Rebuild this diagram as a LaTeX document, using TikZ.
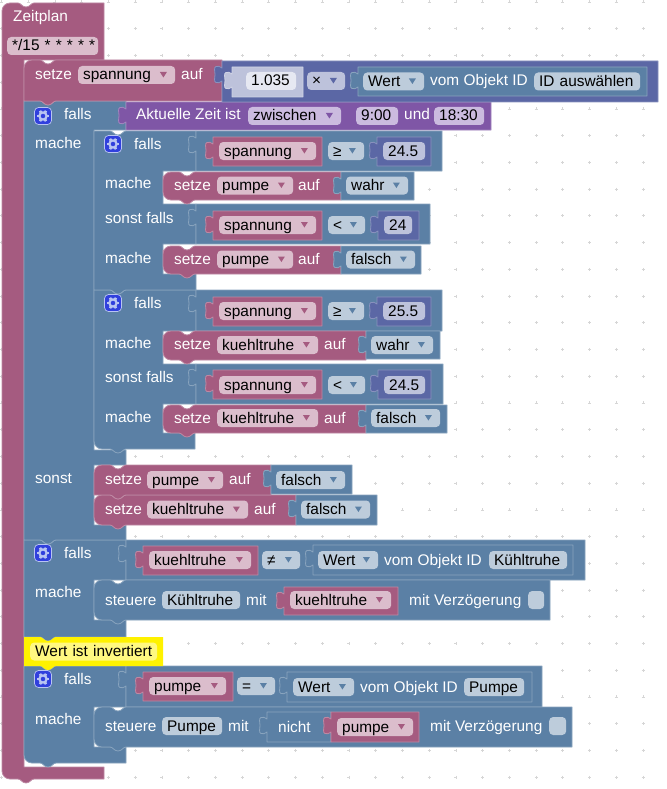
\documentclass[tikz,border=0pt]{standalone}
\usepackage{fontspec}
\setmainfont{Liberation Sans}
\usetikzlibrary{positioning}
\definecolor{cvar}{HTML}{A55B80}
\definecolor{clogic}{HTML}{5B80A5}
\definecolor{cmath}{HTML}{5B67A5}
\definecolor{ctime}{HTML}{7F56A6}
\definecolor{cshadow}{HTML}{BDC2DB}
\definecolor{fvar}{HTML}{DBBDCC}
\definecolor{flogic}{HTML}{BDCCDB}
\definecolor{ftime}{HTML}{CBBBDF}
\definecolor{fwhite}{HTML}{E6E8F2}
\definecolor{gearbg}{HTML}{3140DD}
\definecolor{gearfg}{HTML}{B9C4F2}
\tikzset{
  x=1pt,y=-1pt,
  blk/.style={fill=#1,draw=#1!72!white,line width=0.8pt,line join=round},
  griddot/.style={draw=black!16,line width=0.7pt},
  lbl/.style={anchor=base west,inner sep=0pt,text=white,font=\fontsize{15.4}{18}\selectfont},
  fld/.style={anchor=west,fill=#1,rounded corners=4pt,inner xsep=5pt,inner ysep=0pt,
    text height=11.5pt,text depth=1.5pt,minimum height=18pt,align=left,text=black,
    font=\fontsize{15.4}{18}\selectfont},
  gearbtn/.style={fill=gearbg,draw=gearfg,line width=0.7pt,rounded corners=4pt,minimum size=17pt,inner sep=0pt},
}
\newcommand{\ntop}[2]{-- ({#1+16},#2) .. controls ({#1+19},#2) and ({#1+20},{#2+4}) .. ({#1+24},{#2+4}) .. controls ({#1+28},{#2+4}) and ({#1+29},#2) .. ({#1+32},#2)}
\newcommand{\nbot}[2]{-- ({#1+32},#2) .. controls ({#1+29},#2) and ({#1+28},{#2+4}) .. ({#1+24},{#2+4}) .. controls ({#1+20},{#2+4}) and ({#1+19},#2) .. ({#1+16},#2)}
\newcommand{\stmt}[6]{\path[blk=#1] (#2,{#4+12}) [rounded corners=8pt] -- (#2,#4) [sharp corners] \ntop{#2}{#4} -- (#3,#4) -- (#3,#5) \nbot{#2}{#5} [rounded corners=#6pt] -- (#2,#5) -- (#2,{#4+12}) [sharp corners] -- cycle;}
\newcommand{\valblk}[5]{\path[blk=#1] (#2,#4) -- (#3,#4) -- (#3,#5) -- (#2,#5) -- (#2,{#4+20}) .. controls ({#2-2},{#4+22}) and ({#2-4},{#4+22}) .. ({#2-6},{#4+21.5}) .. controls ({#2-8.5},{#4+21}) and ({#2-7},{#4+16}) .. ({#2-7},{#4+13.5}) .. controls ({#2-7},{#4+11}) and ({#2-8.5},{#4+6}) .. ({#2-6},{#4+5.5}) .. controls ({#2-4},{#4+5}) and ({#2-2},{#4+5}) .. (#2,{#4+7}) -- cycle;}
\newcommand{\fld}[6]{\pgfmathsetmacro\fldw{#4-#3-10}\node[fld=#2,text width=\fldw pt] (#1) at (#3,#5) {\mbox{#6}};}
\newcommand{\dd}[7]{\fld{#1}{#2}{#4}{#5}{#6}{#7}\fill[#3] (#1.east) ++(-15.5,-3) -- ++(7,0) -- ++(-3.5,5.5) -- cycle;}
\newcommand{\gear}[3]{\node[gearbtn] (#1) at (#2,#3) {};
  \draw[gearfg,line width=2.2pt] (#1) circle (3.6);
  \foreach \a in {0,60,...,300} \draw[gearfg,line width=2.6pt] (#1) ++(\a:3.6) -- ++(\a:2.4);}
\begin{document}
\begin{tikzpicture}
\useasboundingbox (0,0) rectangle (666,789);
\fill[white] (0,0) rectangle (666,789);
\foreach \i in {0,...,24} \foreach \j in {0,...,29} {
  \pgfmathsetmacro\dx{1.5+26.73*\i}
  \pgfmathsetmacro\dy{2+26.73*\j}
  \draw[griddot] ({\dx-1.5},\dy) -- ({\dx+1.5},\dy) ({\dx},{\dy-1.5}) -- ({\dx},{\dy+1.5});
}
\path[blk=cvar] (2,100) [rounded corners=8pt] -- (2,3) [sharp corners] \ntop{2}{3} -- (104,3) -- (104,60) -- (24,60) -- (24,767) -- (104,767) -- (104,779) \nbot{2}{779} [rounded corners=8pt] -- (2,779) -- (2,100) [sharp corners] -- cycle;
\node[lbl] (zeitplan) at (13,22) {Zeitplan};
\fld{cron}{fvar}{7}{98}{46}{*/15 * * * * *}

\path[blk=clogic] (24,700) -- (24,666) \ntop{24}{666} -- (126,666) -- (126,707) -- (94,707) -- (94,747) -- (126,747) -- (126,763) \nbot{24}{763} [rounded corners=8pt] -- (24,763) -- (24,700) [sharp corners] -- cycle;
\gear{gthree}{43}{679}
\node[lbl] (falls5) at (64,684) {falls};
\node[lbl] (mache7) at (35,724) {mache};
\valblk{clogic}{126}{542}{666}{707}
\valblk{cvar}{143}{233}{672}{701}
\dd{fpumpe3}{fvar}{cvar}{149}{226}{686}{pumpe}
\dd{opeq}{flogic}{clogic}{237}{275}{686}{=}
\valblk{clogic}{287}{532}{672}{702}
\dd{wert3}{flogic}{clogic}{293}{354}{687}{Wert}
\node[lbl] (vom3) at (360,692) {vom Objekt ID};
\fld{idpumpe}{flogic}{464}{524}{687}{Pumpe}
\stmt{clogic}{94}{572}{707}{747}{8}
\node[lbl] (steuere2) at (105,731) {steuere};
\fld{fpumpectl}{flogic}{162}{222}{726}{Pumpe}
\node[lbl] (mit2) at (228,731) {mit};
\valblk{clogic}{267}{331}{712}{742}
\node[lbl] (nicht) at (278,732) {nicht};
\valblk{cvar}{331}{419}{712}{742}
\dd{fpumpe4}{fvar}{cvar}{337}{413}{727}{pumpe}
\node[lbl] (verz2) at (430,731) {mit Verzögerung};
\fld{check2}{flogic}{549}{566}{726}{}

\path[blk=clogic] (24,540) \ntop{24}{540} -- (126,540) -- (126,580) -- (94,580) -- (94,620) -- (126,620) -- (126,637) \nbot{24}{637} -- (24,637) -- cycle;
\gear{gtwo}{43}{553}
\node[lbl] (falls4) at (64,558) {falls};
\node[lbl] (mache6) at (35,597) {mache};
\valblk{clogic}{126}{585}{540}{580}
\valblk{cvar}{143}{258}{546}{575}
\dd{fkuehl3}{fvar}{cvar}{149}{251}{560}{kuehltruhe}
\dd{opne}{flogic}{clogic}{262}{300}{560}{≠}
\valblk{clogic}{313}{573}{545}{575}
\dd{wert2}{flogic}{clogic}{318}{378}{560}{Wert}
\node[lbl] (vom2) at (384,565) {vom Objekt ID};
\fld{idkuehl}{flogic}{489}{567}{560}{Kühltruhe}
\stmt{clogic}{94}{550}{580}{620}{8}
\node[lbl] (steuere1) at (105,605) {steuere};
\fld{fkuehlctl}{flogic}{162}{240}{600}{Kühltruhe}
\node[lbl] (mit1) at (246,605) {mit};
\valblk{cvar}{284}{398}{587}{615}
\dd{fkuehl4}{fvar}{cvar}{290}{391}{600}{kuehltruhe}
\node[lbl] (verz1) at (409,605) {mit Verzögerung};
\fld{check1}{flogic}{528}{544}{600}{}

\path[fill=yellow] (24,637) \ntop{24}{637} -- (163,637) -- (163,666) \nbot{24}{666} -- (24,666) -- cycle;
\fld{comment}{yellow!50!white}{30}{157}{651.5}{Wert ist invertiert}

\path[blk=clogic] (24,101) \ntop{24}{101} -- (126,101) -- (126,130) -- (94,130) -- (94,450) -- (126,450) -- (126,465) -- (94,465) -- (94,525) -- (126,525) -- (126,540) \nbot{24}{540} -- (24,540) -- cycle;
\gear{gone}{43}{116}
\node[lbl] (falls1) at (64,120) {falls};
\node[lbl] (mache1) at (35,148) {mache};
\node[lbl] (sonst) at (35,483) {sonst};
\valblk{ctime}{126}{491}{102}{130}
\node[lbl] (zeit) at (136,120) {Aktuelle Zeit ist};
\dd{zwischen}{ftime}{ctime}{248}{341}{116}{zwischen}
\fld{von}{ftime}{356}{398}{116}{9:00}
\node[lbl] (und) at (404,120) {und};
\fld{bis}{ftime}{434}{484}{116}{18:30}

\path[blk=clogic] (94,310) -- (94,290) \ntop{94}{290} -- (196,290) -- (196,331) -- (163,331) -- (163,364) -- (196,364) -- (196,404) -- (163,404) -- (163,433) -- (195,433) -- (195,449) \nbot{94}{449} [rounded corners=8pt] -- (94,449) -- (94,310) [sharp corners] -- cycle;
\gear{gfour}{113}{303}
\node[lbl] (falls3) at (134,308) {falls};
\node[lbl] (mache4) at (105,348) {mache};
\node[lbl] (sonstf2) at (105,382) {sonst falls};
\node[lbl] (mache5) at (105,422) {mache};
\valblk{clogic}{196}{442}{290}{331}
\valblk{cvar}{213}{322}{297}{326}
\dd{fspan3}{fvar}{cvar}{219}{316}{311}{spannung}
\dd{opge2}{flogic}{clogic}{328}{364}{311}{≥}
\valblk{cmath}{377}{431}{297}{326}
\fld{numc}{cshadow}{383}{425}{311}{25.5}
\stmt{cvar}{163}{366}{331}{360}{8}
\node[lbl] (setze4) at (174,349) {setze};
\dd{fkuehl1}{fvar}{cvar}{217}{318}{345}{kuehltruhe}
\node[lbl] (auf4) at (324,349) {auf};
\valblk{clogic}{366}{440}{331}{359}
\dd{wahr2}{flogic}{clogic}{371}{433}{345}{wahr}
\valblk{clogic}{196}{443}{364}{404}
\valblk{cvar}{213}{322}{370}{399}
\dd{fspan4}{fvar}{cvar}{219}{316}{385}{spannung}
\dd{oplt2}{flogic}{clogic}{328}{365}{385}{<}
\valblk{cmath}{378}{431}{370}{399}
\fld{numd}{cshadow}{384}{425}{385}{24.5}
\stmt{cvar}{163}{366}{405}{433}{8}
\node[lbl] (setze5) at (174,423) {setze};
\dd{fkuehl2}{fvar}{cvar}{217}{318}{418}{kuehltruhe}
\node[lbl] (auf5) at (324,423) {auf};
\valblk{clogic}{366}{447}{405}{433}
\dd{falsch2}{flogic}{clogic}{371}{440}{418}{falsch}

\path[blk=clogic] (94,131) \ntop{94}{131} -- (196,131) -- (196,171) -- (163,171) -- (163,204) -- (196,204) -- (196,244) -- (163,244) -- (163,274) -- (196,274) -- (196,290) \nbot{94}{290} -- (94,290) -- cycle;
\gear{gthreeb}{113}{144}
\node[lbl] (falls2) at (134,149) {falls};
\node[lbl] (mache2) at (105,188) {mache};
\node[lbl] (sonstf1) at (105,223) {sonst falls};
\node[lbl] (mache3) at (105,263) {mache};
\valblk{clogic}{196}{442}{131}{171}
\valblk{cvar}{213}{322}{137}{166}
\dd{fspan1}{fvar}{cvar}{219}{316}{151}{spannung}
\dd{opge1}{flogic}{clogic}{328}{364}{151}{≥}
\valblk{cmath}{377}{431}{137}{166}
\fld{numa}{cshadow}{383}{425}{151}{24.5}
\stmt{cvar}{163}{341}{172}{200}{8}
\node[lbl] (setze2) at (174,190) {setze};
\dd{fpumpe1}{fvar}{cvar}{217}{293}{185.5}{pumpe}
\node[lbl] (auf2) at (298,190) {auf};
\valblk{clogic}{341}{414}{172}{200}
\dd{wahr1}{flogic}{clogic}{346}{408}{185.5}{wahr}
\valblk{clogic}{196}{430}{204}{244}
\valblk{cvar}{213}{322}{211}{240}
\dd{fspan2}{fvar}{cvar}{219}{316}{225}{spannung}
\dd{oplt1}{flogic}{clogic}{328}{365}{225}{<}
\valblk{cmath}{378}{419}{211}{240}
\fld{numb}{cshadow}{384}{412}{225}{24}
\stmt{cvar}{163}{341}{246}{274}{8}
\node[lbl] (setze3) at (174,264) {setze};
\dd{fpumpe2}{fvar}{cvar}{217}{293}{259.5}{pumpe}
\node[lbl] (auf3) at (298,264) {auf};
\valblk{clogic}{341}{421}{246}{274}
\dd{falsch1}{flogic}{clogic}{346}{415}{259.5}{falsch}

\stmt{cvar}{94}{296}{495}{525}{8}
\node[lbl] (setze7) at (105,514) {setze};
\dd{fkuehl5}{fvar}{cvar}{147}{248}{509.5}{kuehltruhe}
\node[lbl] (auf7) at (254,514) {auf};
\valblk{clogic}{296}{377}{495}{525}
\dd{falsch4}{flogic}{clogic}{301}{370}{509.5}{falsch}
\stmt{cvar}{94}{271}{465}{495}{0.01}
\node[lbl] (setze6) at (105,484) {setze};
\dd{fpumpe5}{fvar}{cvar}{147}{223}{480}{pumpe}
\node[lbl] (auf6) at (229,484) {auf};
\valblk{clogic}{271}{352}{465}{494}
\dd{falsch3}{flogic}{clogic}{276}{345}{480}{falsch}

\stmt{cvar}{24}{222}{60}{101}{0.01}
\node[lbl] (setze1) at (35,80) {setze};
\dd{fspan0}{fvar}{cvar}{78}{175}{75}{spannung}
\node[lbl] (auf1) at (181,80) {auf};
\valblk{cmath}{222}{658}{61}{102}
\valblk{cshadow}{232}{303}{67}{97}
\fld{num0}{fwhite}{246}{296}{81}{1.035}
\dd{optimes}{cshadow}{cmath}{307}{345}{81}{×}
\valblk{clogic}{358}{647}{67}{96}
\dd{wert1}{flogic}{clogic}{363}{424}{81.5}{Wert}
\node[lbl] (vom1) at (430,86) {vom Objekt ID};
\fld{idwahl}{flogic}{534}{640}{81.5}{ID auswählen}
\end{tikzpicture}
\end{document}
